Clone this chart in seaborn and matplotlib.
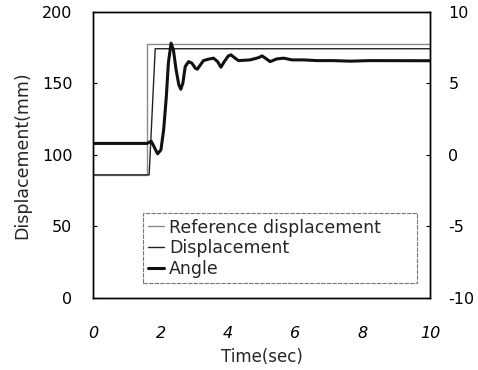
import numpy as np
import pandas as pd
import seaborn as sns
import matplotlib.pyplot as plt

# values
ref_time = [0, 1.6, 1.6, 10]
ref_disp = [86, 86, 177.5, 177.5]

disp_time = [0, 1.66, 1.84, 10]
disp_vals = [86, 86, 174.2, 174.2]

angle_time = [0, 1.60, 1.72, 1.80, 1.91, 2.01, 2.09, 2.17, 2.23, 2.31, 2.38, 2.46, 2.54,
              2.60, 2.66, 2.73, 2.83, 2.93, 3.03, 3.09, 3.18, 3.27, 3.42, 3.57, 3.69,
              3.79, 3.89, 4.01, 4.09, 4.21, 4.31, 4.66, 4.91, 5.01, 5.15, 5.25, 5.45,
              5.65, 5.90, 6.24, 6.64, 7.12, 7.63, 8.2, 10]
angle_vals = [0.8, 0.8, 0.95, 0.6, 0.07, 0.35, 1.75, 4.08, 6.41, 7.81, 7.34, 5.94, 4.90,
              4.59, 5.01, 6.17, 6.52, 6.41, 6.06, 5.99, 6.29, 6.59, 6.69, 6.76, 6.52,
              6.13, 6.52, 6.92, 6.99, 6.76, 6.59, 6.64, 6.80, 6.92, 6.69, 6.52, 6.71,
              6.76, 6.64, 6.64, 6.59, 6.59, 6.55, 6.59, 6.58]

sns.set_style("white")
plt.rcParams['font.family'] = ['DejaVu Sans']
plt.rcParams['axes.unicode_minus'] = False

fig, ax = plt.subplots(figsize=(4.78, 3.7), dpi=100)
fig.subplots_adjust(left=0.195, right=0.9, top=0.968, bottom=0.195)
ax2 = ax.twinx()

ref = pd.DataFrame({'t': ref_time, 'v': ref_disp})
dis = pd.DataFrame({'t': disp_time, 'v': disp_vals})
ang = pd.DataFrame({'t': angle_time, 'v': angle_vals})

sns.lineplot(data=ref, x='t', y='v', ax=ax, color='#8a8a8a', lw=1.0, estimator=None,
             label='Reference displacement', legend=False, sort=False)
sns.lineplot(data=dis, x='t', y='v', ax=ax, color='#222222', lw=1.0, estimator=None,
             label='Displacement', legend=False, sort=False)
sns.lineplot(data=ang, x='t', y='v', ax=ax2, color='#111111', lw=2.2, estimator=None,
             label='Angle', legend=False, sort=False)
ax2.lines[0].set_solid_joinstyle('round')

ax.set_xlim(0, 10)
ax.set_ylim(0, 200)
ax2.set_ylim(-10, 10)
ax.set_xticks([0, 2, 4, 6, 8, 10])
ax.set_yticks([0, 50, 100, 150, 200])
ax2.set_yticks([-10, -5, 0, 5, 10])

for a in [ax, ax2]:
    for s in a.spines.values():
        s.set_color('black')
        s.set_linewidth(1.0)
    a.tick_params(direction='in', length=3, width=0.8, labelsize=11.5, colors='black')
ax.tick_params(axis='y', pad=15)
ax2.tick_params(axis='y', pad=13)
ax.tick_params(axis='x', pad=20)

for lbl in ax.get_xticklabels():
    lbl.set_fontstyle('italic')

ax.set_xlabel('Time(sec)', fontsize=12, labelpad=5)
ax.set_ylabel('Displacement(mm)', fontsize=12.5, labelpad=8)
ax2.set_ylabel('')

h1, l1 = ax.get_legend_handles_labels()
h2, l2 = ax2.get_legend_handles_labels()
leg = ax2.legend(h1 + h2, l1 + l2, loc='lower left', bbox_to_anchor=(0.148, 0.052, 0.813, 0.25),
                 mode='expand', fontsize=12.5, handlelength=0.9, handletextpad=0.3,
                 labelspacing=0.15, borderpad=0.3, fancybox=False, frameon=True, borderaxespad=0)
leg.get_frame().set_edgecolor('#555555')
leg.get_frame().set_linestyle((0, (4, 1)))
leg.get_frame().set_linewidth(0.8)

fig.savefig('out.png', dpi=100, facecolor='white')
